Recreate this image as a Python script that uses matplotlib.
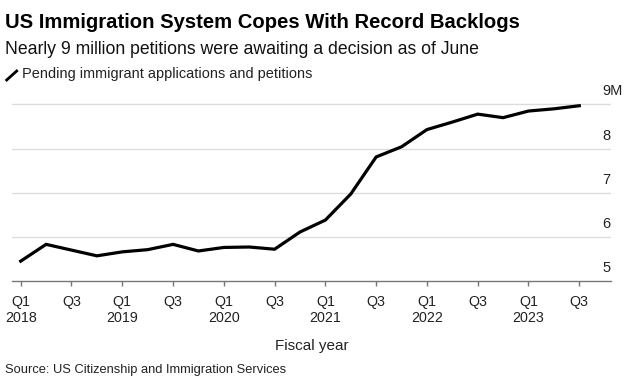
import matplotlib
matplotlib.use("Agg")
import matplotlib.pyplot as plt
import matplotlib.transforms as mtransforms
from matplotlib.lines import Line2D

plt.rcParams["font.family"] = ["Liberation Sans", "DejaVu Sans"]

# ── data (millions, fiscal quarters Q1 2018 .. Q3 2023) ─────────────────────
quarters = ["Q1 2018", "Q2 2018", "Q3 2018", "Q4 2018",
            "Q1 2019", "Q2 2019", "Q3 2019", "Q4 2019",
            "Q1 2020", "Q2 2020", "Q3 2020", "Q4 2020",
            "Q1 2021", "Q2 2021", "Q3 2021", "Q4 2021",
            "Q1 2022", "Q2 2022", "Q3 2022", "Q4 2022",
            "Q1 2023", "Q2 2023", "Q3 2023"]
pending = [5.45, 5.83, 5.70, 5.57,
           5.66, 5.71, 5.83, 5.68,
           5.76, 5.77, 5.72, 6.11,
           6.38, 6.97, 7.81, 8.04,
           8.43, 8.60, 8.78, 8.70,
           8.85, 8.90, 8.97]
tick_labels = ["Q1\n2018", "Q3", "Q1\n2019", "Q3", "Q1\n2020", "Q3",
               "Q1\n2021", "Q3", "Q1\n2022", "Q3", "Q1\n2023", "Q3"]
y_ticks = [5, 6, 7, 8, 9]
y_labels = ["5", "6", "7", "8", "9M"]

W, H = 631, 387
fig = plt.figure(figsize=(W / 100, H / 100), dpi=100)
fig.patch.set_facecolor("white")

# axes placed in pixel terms
left, right, bottom, top = 12, 611, 281, 100
ax = fig.add_axes([left / W, 1 - bottom / H, (right - left) / W, (bottom - top) / H])

x = list(range(len(quarters)))
ax.plot(x, pending, color="black", lw=2.3, solid_joinstyle="miter", zorder=3)

ax.set_xlim(-0.343, 23.25)
ax.set_ylim(5, 9.1)

for v in y_ticks[1:]:
    ax.axhline(v, color="#dcdcdc", lw=1.0, zorder=1)

trans = mtransforms.blended_transform_factory(ax.transAxes, ax.transData)
for v, lab in zip(y_ticks, y_labels):
    ax.annotate(lab, xy=(0.985, v), xycoords=trans, xytext=(0, 6.5),
                textcoords="offset points", ha="left", va="baseline",
                fontsize=10.5, color="#222222")

ax.set_xticks(x[::2])
ax.set_xticklabels(tick_labels, fontsize=10.3, color="#222222", linespacing=1.2)
ax.tick_params(axis="x", length=3.8, width=1, color="#777777", pad=6)
ax.set_yticks([])
for s in ["top", "right", "left"]:
    ax.spines[s].set_visible(False)
ax.spines["bottom"].set_color("#777777")
ax.spines["bottom"].set_linewidth(1)
ax.set_xlabel("Fiscal year", fontsize=11, color="#222222", labelpad=10)

# titles
fig.text(5 / W, 1 - 28 / H, "US Immigration System Copes With Record Backlogs",
         fontsize=14.6, fontweight="bold", color="black", va="baseline")
fig.text(5 / W, 1 - 53.5 / H, "Nearly 9 million petitions were awaiting a decision as of June",
         fontsize=12.7, color="#111111", va="baseline")
fig.add_artist(Line2D([6.7 / W, 16.7 / W], [1 - 80 / H, 1 - 71 / H],
                      color="black", lw=2.0, transform=fig.transFigure))
fig.text(22 / W, 1 - 78 / H, "Pending immigrant applications and petitions",
         fontsize=10.45, color="#222222", va="baseline")
fig.text(5 / W, 1 - 373 / H, "Source: US Citizenship and Immigration Services",
         fontsize=9.3, color="#222222", va="baseline")

fig.savefig("out.png", dpi=100, facecolor="white")
